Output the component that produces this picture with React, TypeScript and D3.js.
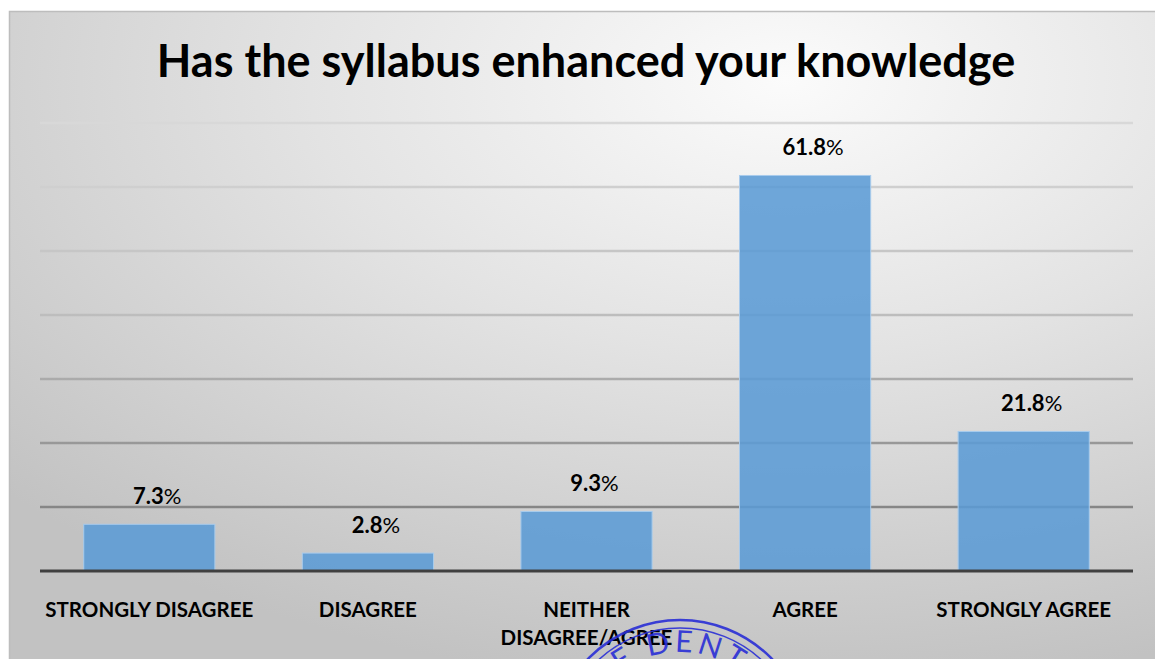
import React from 'react';
import * as d3 from 'd3';

const title = 'Has the syllabus enhanced your knowledge';
const categories = ['STRONGLY DISAGREE', 'DISAGREE', 'NEITHER DISAGREE/AGREE', 'AGREE', 'STRONGLY AGREE'];
const categoryLines = [['STRONGLY DISAGREE'], ['DISAGREE'], ['NEITHER', 'DISAGREE/AGREE'], ['AGREE'], ['STRONGLY AGREE']];
const values = [7.3, 2.8, 9.3, 61.8, 21.8];
const yTicks = [0, 10, 20, 30, 40, 50, 60, 70];

const W = 1155;
const H = 659;
const FONT = 'Lato, "Open Sans", sans-serif';

export default function App() {
  const x = d3.scaleBand<string>().domain(categories).range([40, 1133]).paddingInner(0.4).paddingOuter(0.2);
  const y = d3.scaleLinear().domain([0, 70]).range([571, 123]);
  const gridTicks = yTicks.filter((t) => t > 0);

  // stamp geometry
  const sx = 680, sy = 748;
  const arcR = 96;
  const textArc = `M ${sx - arcR} ${sy} A ${arcR} ${arcR} 0 0 1 ${sx + arcR} ${sy}`;

  return (
    <svg width={W} height={H} style={{ position: 'absolute', left: 0, top: 0, display: 'block' }} fontFamily={FONT}>
      <defs>
        <radialGradient id="bg" cx="0.66" cy="0.1" r="0.9" fx="0.66" fy="0.1">
          <stop offset="0" stopColor="#fbfbfb" />
          <stop offset="0.45" stopColor="#e3e3e3" />
          <stop offset="1" stopColor="#c2c2c2" />
        </radialGradient>
        <linearGradient id="grid" gradientUnits="userSpaceOnUse" x1="0" y1="123" x2="0" y2="507">
          <stop offset="0" stopColor="#d8d8d8" />
          <stop offset="0.5" stopColor="#bdbdbd" />
          <stop offset="1" stopColor="#868686" />
        </linearGradient>
        <clipPath id="frame">
          <rect x={9} y={11} width={W} height={H} />
        </clipPath>
      </defs>
      <rect x={0} y={0} width={W} height={H} fill="#ffffff" />
      <rect x={9.5} y={11.5} width={W + 20} height={H + 20} fill="url(#bg)" stroke="#bdbdbd" strokeWidth={1.5} />

      <text x={586} y={77} textAnchor="middle" fontSize={45} fontWeight={700} fill="#000">
        {title}
      </text>

      {gridTicks.map((t) => (
        <line key={t} x1={40} x2={1133} y1={y(t)} y2={y(t)} stroke="url(#grid)" strokeWidth={2.5} />
      ))}

      {categories.map((c, i) => (
        <rect
          key={c}
          x={x(c)!}
          y={y(values[i])}
          width={x.bandwidth()}
          height={y(0) - y(values[i])}
          fill="#5b9bd5"
          fillOpacity={0.88}
          stroke="#a8cbec"
          strokeWidth={1}
        />
      ))}

      <line x1={40} x2={1133} y1={y(0)} y2={y(0)} stroke="#404040" strokeWidth={3} />

      {categories.map((c, i) => (
        <text
          key={'v' + c}
          x={x(c)! + x.bandwidth() / 2 + 8}
          y={y(values[i]) - 20}
          textAnchor="middle"
          fontSize={22}
          fill="#000"
        >
          <tspan fontWeight={700}>{values[i].toFixed(1)}</tspan>
          <tspan fontWeight={400}>%</tspan>
        </text>
      ))}

      {categories.map((c, i) => (
        <text key={'c' + c} textAnchor="middle" fontSize={20.5} fontWeight={700} fill="#000">
          {categoryLines[i].map((ln, j) => (
            <tspan key={j} x={x(c)! + x.bandwidth() / 2} y={617 + j * 28}>
              {ln}
            </tspan>
          ))}
        </text>
      ))}

      <g clipPath="url(#frame)" fill="none" stroke="#2a2fd6" strokeWidth={2.5} opacity={0.9}>
        <circle cx={sx} cy={sy} r={128} />
        <circle cx={sx} cy={sy} r={120} strokeWidth={1.5} />
        <path id="stampArc" d={textArc} stroke="none" />
        <text fontSize={30} fill="#2a2fd6" stroke="none" fontFamily={FONT} letterSpacing={4}>
          <textPath href="#stampArc" startOffset="50%" textAnchor="middle">
            E DENT
          </textPath>
        </text>
      </g>
    </svg>
  );
}
